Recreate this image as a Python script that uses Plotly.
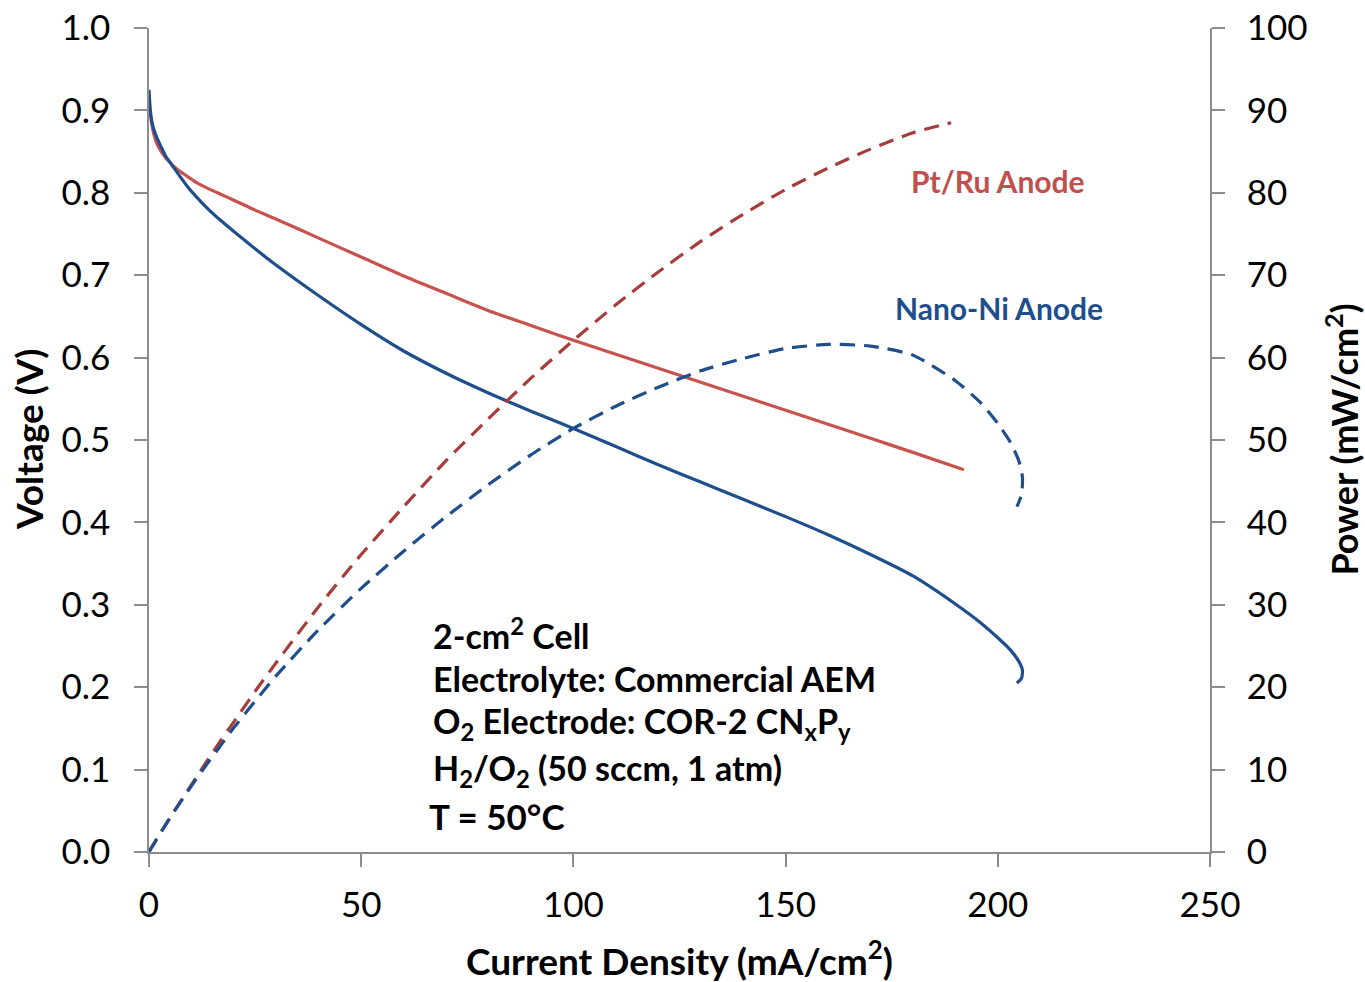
import plotly.graph_objects as go

# Polarization (voltage) curves, current density in mA/cm2
ptru_current = [0, 0.3, 0.7, 1.2, 2, 3, 4, 5.5, 7, 9, 11, 14, 17, 20, 25, 30, 40, 50, 60, 70,
                80, 90, 100, 110, 120, 130, 140, 150, 160, 170, 180, 192]
ptru_voltage = [0.913, 0.896, 0.882, 0.870, 0.858, 0.849, 0.842, 0.834, 0.827, 0.820, 0.813,
                0.805, 0.798, 0.791, 0.779, 0.768, 0.745, 0.722, 0.699, 0.678, 0.657, 0.639,
                0.621, 0.604, 0.587, 0.570, 0.553, 0.536, 0.519, 0.502, 0.485, 0.464]

ni_current = [0, 0.3, 0.7, 1.2, 2, 3, 4, 5.5, 7, 9, 11, 14, 17, 20, 25, 30, 40, 50, 60, 70,
              80, 90, 100, 110, 120, 130, 140, 150, 160, 170, 180, 190, 196, 200, 203, 205,
              205.8, 205.6, 204.5]
ni_voltage = [0.925, 0.901, 0.886, 0.876, 0.865, 0.854, 0.844, 0.833, 0.822, 0.808, 0.796,
              0.780, 0.766, 0.753, 0.732, 0.712, 0.675, 0.640, 0.608, 0.581, 0.557, 0.535,
              0.514, 0.492, 0.470, 0.449, 0.428, 0.407, 0.385, 0.361, 0.335, 0.301, 0.278,
              0.260, 0.245, 0.231, 0.221, 0.211, 0.205]

# Power density curves, mW/cm2
ptru_p_current = [0, 0.3, 0.7, 1.2, 2, 3, 4, 5.5, 7, 9, 11, 14, 17, 20, 25, 30, 40, 50, 60, 70,
                  80, 90, 100, 110, 120, 130, 140, 150, 160, 170, 180, 189]
ptru_power = [0, 0.27, 0.62, 1.04, 1.72, 2.55, 3.37, 4.59, 5.79, 7.38, 8.94, 11.3, 13.6, 15.8,
              19.5, 23.0, 29.8, 36.1, 41.9, 47.5, 52.6, 57.5, 62.1, 66.4, 70.4, 74.1, 77.4,
              80.4, 83.0, 85.3, 87.3, 88.5]

ni_p_current = [0, 0.3, 0.7, 1.2, 2, 3, 4, 5.5, 7, 9, 11, 14, 17, 20, 25, 30, 40, 50, 60, 70,
                80, 90, 100, 110, 120, 130, 140, 150, 160, 170, 180, 190, 196, 200, 203, 205,
                205.8, 205.6, 204.5]
ni_power = [0, 0.27, 0.62, 1.05, 1.73, 2.56, 3.38, 4.58, 5.75, 7.27, 8.76, 10.9, 13.0, 15.1,
            18.3, 21.4, 27.0, 32.0, 36.5, 40.7, 44.6, 48.2, 51.4, 54.1, 56.4, 58.4, 59.9, 61.1,
            61.6, 61.4, 60.3, 57.2, 54.5, 52.0, 49.7, 47.4, 45.5, 43.4, 41.9]

x_ticks = [0, 50, 100, 150, 200, 250]
v_ticks = [0.0, 0.1, 0.2, 0.3, 0.4, 0.5, 0.6, 0.7, 0.8, 0.9, 1.0]
p_ticks = [0, 10, 20, 30, 40, 50, 60, 70, 80, 90, 100]

RED = "#C8524E"
RED_DASH = "#A63D3A"
BLUE = "#1F4E8D"
AXIS = "#8C8C8C"
FONT = "Lato"

fig = go.Figure()

dash_style = dict(width=3.2, dash="15px,9px", shape="spline", smoothing=0.6)
solid_style = dict(width=3.2, shape="spline", smoothing=0.6)

fig.add_trace(go.Scatter(x=ptru_p_current, y=ptru_power, yaxis="y2", mode="lines",
                         line=dict(color=RED_DASH, **dash_style),
                         showlegend=False, hoverinfo="skip"))
fig.add_trace(go.Scatter(x=ni_p_current, y=ni_power, yaxis="y2", mode="lines",
                         line=dict(color=BLUE, **dash_style),
                         showlegend=False, hoverinfo="skip"))
fig.add_trace(go.Scatter(x=ptru_current, y=ptru_voltage, mode="lines",
                         line=dict(color=RED, **solid_style),
                         showlegend=False, hoverinfo="skip"))
fig.add_trace(go.Scatter(x=ni_current, y=ni_voltage, mode="lines",
                         line=dict(color=BLUE, **solid_style),
                         showlegend=False, hoverinfo="skip"))

axis_common = dict(showgrid=False, zeroline=False, showline=True, linecolor=AXIS, linewidth=1.5,
                   ticks="outside", ticklen=13, tickcolor=AXIS, tickwidth=1.5, automargin=False,
                   tickfont=dict(family=FONT, size=35, color="#000000"))

fig.update_layout(
    width=1365, height=982,
    margin=dict(l=149, r=155, t=28, b=130),
    paper_bgcolor="white", plot_bgcolor="white",
    xaxis=dict(range=[0, 250], tickvals=x_ticks, ticktext=[str(v) for v in x_ticks],
               ticklabelstandoff=8, **axis_common),
    yaxis=dict(range=[0, 1.0], tickvals=v_ticks, ticktext=[f"{v:.1f}" for v in v_ticks],
               ticklabelstandoff=17, **axis_common),
    yaxis2=dict(range=[0, 100], tickvals=p_ticks, ticktext=[str(v) for v in p_ticks],
                overlaying="y", side="right", ticklabelstandoff=15, **axis_common),
)

title_font = dict(family=FONT, size=37, color="#000000")

# Axis titles
fig.add_annotation(text="<b>Current Density (mA/cm<sup>2</sup>)</b>", xref="paper", yref="paper",
                   x=0.5, y=-0.129, xanchor="center", yanchor="middle", showarrow=False, font=title_font)
fig.add_annotation(text="<b>Voltage (V)</b>", xref="paper", yref="paper", x=-0.114, y=0.5,
                   xanchor="center", yanchor="middle", textangle=-90, showarrow=False, font=title_font)
fig.add_annotation(text="<b>Power (mW/cm<sup>2</sup>)</b>", xref="paper", yref="paper", x=1.124, y=0.5,
                   xanchor="center", yanchor="middle", textangle=-90, showarrow=False,
                   font=dict(family=FONT, size=36, color="#000000"))

# Series labels
fig.add_annotation(text="<b>Pt/Ru Anode</b>", x=200, y=0.814, xanchor="center", yanchor="middle",
                   showarrow=False, font=dict(family=FONT, size=30, color="#C0504D"))
fig.add_annotation(text="<b>Nano-Ni Anode</b>", x=200.3, y=0.660, xanchor="center", yanchor="middle",
                   showarrow=False, font=dict(family=FONT, size=30, color=BLUE))

# Test conditions
conditions = [
    ("2-cm<sup>2</sup> Cell", 0.265),
    ("Electrolyte: Commercial AEM", 0.210),
    ("O<sub>2</sub> Electrode: COR-2 CN<sub>x</sub>P<sub>y</sub>", 0.156),
    ("H<sub>2</sub>/O<sub>2</sub> (50 sccm, 1 atm)", 0.100),
]
for txt, yv in conditions:
    fig.add_annotation(text=f"<b>{txt}</b>", x=66.5, y=yv, xanchor="left", yanchor="middle",
                       showarrow=False, font=dict(family=FONT, size=34, color="#000000"))
fig.add_annotation(text="<b>T = 50°C</b>", x=65.5, y=0.044, xanchor="left", yanchor="middle",
                   showarrow=False, font=dict(family=FONT, size=35, color="#000000"))

fig.write_html("out.html")
